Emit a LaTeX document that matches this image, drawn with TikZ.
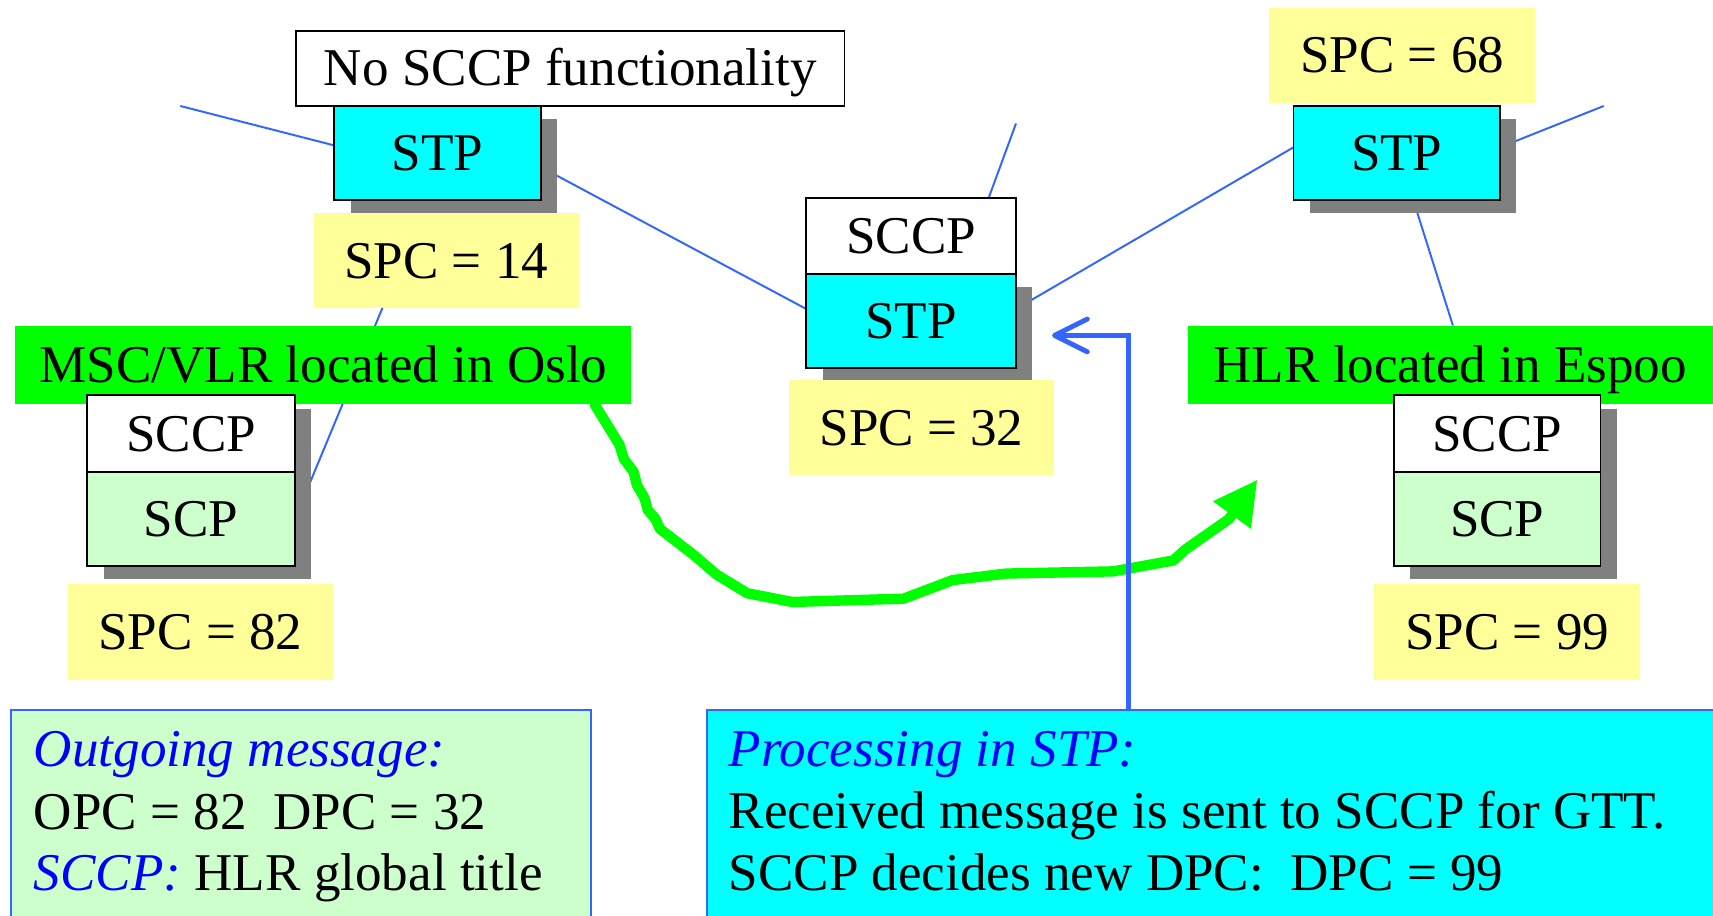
\documentclass[tikz,border=0pt]{standalone}
\usepackage{fontspec}
\setmainfont{Liberation Serif}
\usetikzlibrary{shadows,arrows.meta,calc}
\pgfdeclarelayer{links}
\pgfsetlayers{links,main}
\definecolor{cyanfill}{RGB}{0,255,255}
\definecolor{sitegreen}{RGB}{0,255,0}
\definecolor{paleyellow}{RGB}{255,255,153}
\definecolor{palegreen}{RGB}{204,255,204}
\definecolor{linkblue}{RGB}{51,102,255}
\definecolor{noteblue}{RGB}{0,0,255}
\definecolor{shadegray}{RGB}{128,128,128}
\newcommand\bigtext{\fontsize{48.6pt}{56pt}\selectfont}
\tikzset{
  every node/.style={inner sep=0pt, outer sep=0pt, font=\bigtext},
  centred/.style={anchor=north west, text height=32pt, text depth=0pt},
  block/.style={centred, draw=black, line width=1.8pt},
  layerbox/.style={block, fill=white},
  stpbox/.style={block, fill=cyanfill, minimum height=86pt},
  scpbox/.style={block, fill=palegreen, minimum height=86pt},
  spcbox/.style={centred, fill=paleyellow, minimum width=243pt, minimum height=87pt},
  sitebox/.style={centred, fill=sitegreen, minimum height=72pt},
  shade/.style={drop shadow={shadow xshift=15pt, shadow yshift=-12pt, fill=shadegray, opacity=1}},
  link/.style={draw=linkblue, line width=1.8pt},
  notebox/.style={anchor=north west, draw=linkblue, line width=1.5pt, minimum height=230pt},
  noteline/.style={anchor=base west},
  flowarrow/.style={draw=sitegreen, line width=9.5pt, line join=round, line cap=round,
    -{Triangle[length=40pt,width=40pt]}},
  procarrow/.style={draw=linkblue, line width=4.5pt,
    -{Straight Barb[length=30pt,width=30pt,round]}},
}
\begin{document}
\begin{tikzpicture}[x=1pt,y=-1pt]
\useasboundingbox (0,0) rectangle (1568,838);
\clip (0,0) rectangle (1568,838);

% left STP without SCCP
\node[layerbox, minimum width=502pt, minimum height=69pt] (nofunc) at (271,28) {No SCCP functionality};
\node[stpbox, shade, minimum width=189pt] (stpA) at (306,97) {STP};
\node[spcbox] (spcA) at (287,195) {SPC = 14};

% MSC/VLR in Oslo
\node[sitebox, minimum width=564pt] (msc) at (14,298) {MSC/VLR located in Oslo};
\node[layerbox, shade, minimum width=190pt, minimum height=70pt] (sccpL) at (80,362) {SCCP};
\node[scpbox, shade, minimum width=190pt] (scpL) at (80,432) {SCP};
\node[spcbox] (spcL) at (62,535) {SPC = 82};

% STP with SCCP (GTT)
\node[layerbox, minimum width=192pt, minimum height=70pt] (sccpM) at (738,181) {SCCP};
\node[stpbox, shade, minimum width=192pt] (stpM) at (738,251) {STP};
\node[spcbox] (spcM) at (722,348) {SPC = 32};

% right STP
\node[spcbox] (spcT) at (1162,7) {SPC = 68};
\node[stpbox, shade, minimum width=189pt] (stpR) at (1184,97) {STP};

% HLR in Espoo
\node[sitebox, minimum width=481pt] (hlr) at (1087,298) {HLR located in Espoo};
\node[layerbox, shade, minimum width=189pt, minimum height=70pt] (sccpR) at (1276,362) {SCCP};
\node[scpbox, shade, minimum width=189pt] (scpR) at (1276,432) {SCP};
\node[spcbox] (spcR) at (1258,535) {SPC = 99};

% signalling links, behind the boxes
\coordinate (freeA) at (165,97);
\coordinate (freeM) at (930,113);
\coordinate (freeR) at (1468,97);
\begin{pgfonlayer}{links}
  \draw[link] (freeA) -- ($(stpA.north west)!0.42!(stpA.south west)$);
  \draw[link] ($(stpA.north east)!0.65!(stpA.south east)$) -- ($(stpM.north west)!0.37!(stpM.south west)$);
  \draw[link] ($(stpA.south west)!0.45!(stpA.south east)$) -- (scpL.east);
  \draw[link] ($(sccpM.north west)!0.87!(sccpM.north east)$) -- (freeM);
  \draw[link] ($(stpM.north east)!0.37!(stpM.south east)$) -- ($(stpR.north west)!0.44!(stpR.south west)$);
  \draw[link] ($(stpR.north east)!0.44!(stpR.south east)$) -- (freeR);
  \draw[link] ($(stpR.south west)!0.58!(stpR.south east)$) -- ($(hlr.north west)!0.505!(hlr.north east)$);
\end{pgfonlayer}

% explanation boxes
\node[notebox, fill=palegreen, minimum width=531pt] (outgoing) at (10,650) {};
\node[notebox, fill=cyanfill, minimum width=950pt] (processing) at (647,650) {};
\node[noteline] (outL1) at (31,702) {\textcolor{noteblue}{\itshape Outgoing message:}};
\node[noteline] (outL2) at (31,759) {OPC = 82\ \ DPC = 32};
\node[noteline] (outL3) at (31,815) {\textcolor{noteblue}{\itshape SCCP:} HLR global title};
\node[noteline] (procL1) at (667,702) {\textcolor{noteblue}{\itshape Processing in STP:}};
\node[noteline] (procL2) at (667,758) {Received message is sent to SCCP for GTT.};
\node[noteline] (procL3) at (667,815) {SCCP decides new DPC:\ \ DPC = 99};

% message path from the MSC/VLR towards the HLR
\coordinate (flowTip) at (1151,439);
\draw[flowarrow] ($(msc.south west)!0.94!(msc.south east)$) -- (567,407) -- (571,420)
  -- (580,432) -- (583,444) -- (590,456) -- (593,467) -- (600,475) -- (604,484)
  -- (613,491) -- (635,508) -- (656,526) -- (684,543) -- (725,551) -- (827,548)
  -- (872,531) -- (921,525) -- (1019,523) -- (1074,513) -- (1085,503) -- (1125,475)
  -- (flowTip);

% processing in the STP
\coordinate (procTip) at (963,307);
\draw[procarrow] ($(processing.north west)+(386,0)$) |- (procTip);
\end{tikzpicture}
\end{document}
